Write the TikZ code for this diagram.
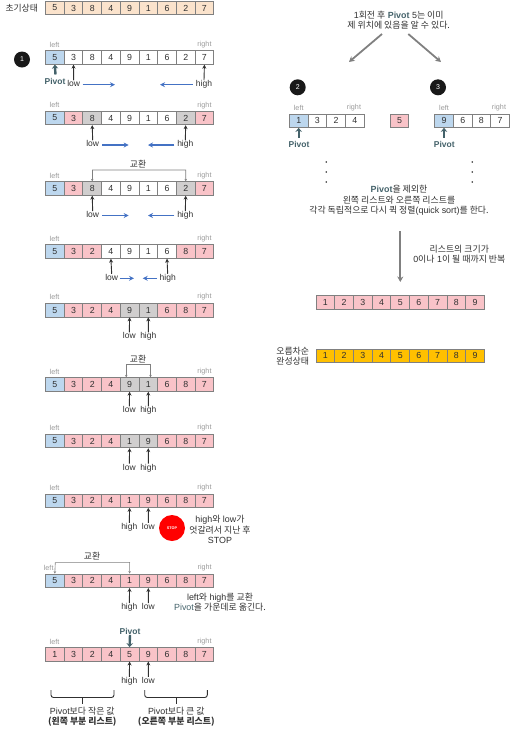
\documentclass[tikz,border=0pt]{standalone}
\usepackage{fontspec}
\setmainfont{Liberation Sans}
\newfontfamily\kr{Noto Sans CJK KR}
\usetikzlibrary{arrows.meta}
\definecolor{cP}{HTML}{F9C3C8}
\definecolor{cB}{HTML}{BDD7EE}
\definecolor{cG}{HTML}{D0CECE}
\definecolor{cW}{HTML}{FFFFFF}
\definecolor{cO}{HTML}{FBE3CC}
\definecolor{cY}{HTML}{FFC000}
\definecolor{edge}{HTML}{808080}
\definecolor{pvt}{HTML}{44626A}
\definecolor{ink}{HTML}{303030}
\definecolor{flow}{HTML}{4472C4}
\tikzset{
  cellbox/.style={draw=edge,line width=0.8pt,minimum width=18.7pt,minimum height=13.5pt,inner sep=0pt,text=ink,font=\fontsize{8.8}{9}\selectfont},
  lrtext/.style={text=black!40,inner sep=0pt,font=\fontsize{7.2}{8}\selectfont},
  ptrtext/.style={inner sep=0pt,text height=6.3pt,text depth=1.8pt,text=ink,font=\fontsize{8.5}{9}\selectfont},
  plain/.style={inner sep=0pt,align=center,text=ink,font=\fontsize{8.9}{10.3}\selectfont},
  krlabel/.style={plain,font=\kr\fontsize{8.8}{10}\selectfont},
  ptrline/.style={draw=ink,line width=0.9pt,-{Stealth[length=4pt,width=4pt]}},
  flowline/.style={draw=flow,line width=1.4pt,-{Stealth[length=5pt,width=5pt]}},
  swapline/.style={draw=edge,line width=0.6pt,-{Stealth[length=2.5pt,width=2.5pt]}},
  bigline/.style={draw=edge,line width=1.8pt,-{Stealth[length=5.5pt,width=6pt]}},
  pvtline/.style={draw=pvt,line width=2.4pt,-{Stealth[length=4pt,width=6.5pt]}},
  pvttext/.style={inner sep=0pt,text=pvt,font=\bfseries\fontsize{8.5}{9}\selectfont},
  badge/.style={circle,fill=black!90,text=white,minimum size=16pt,inner sep=0pt,font=\fontsize{7}{8}\selectfont},
  bracefig/.style={draw=ink,line width=0.9pt,rounded corners=2.5pt},
  tipfig/.style={draw=ink,line width=0.9pt},
}
\newcommand\cellrow[4]{% name, x of first cell centre, y centre, val/col list
  \foreach \v/\c [count=\i from 0] in {#4}
    \node[cellbox,fill=\c] (#1c\the\numexpr\i+1\relax) at ({#2+\i*18.7},#3) {\v};
}
\newcommand\lr[4]{% name, xleft, xright, y
  \node[lrtext] (#1L) at (#2,#4) {left};
  \node[lrtext] (#1R) at (#3,#4) {right};
}
\newcommand\ptr[5]{% name,x,y,text,target
  \node[ptrtext] (#1) at (#2,#3) {#4};
  \draw[ptrline] (#1.north) -- (#5.south);
}
\begin{document}
\begin{tikzpicture}[x=1pt,y=-1pt]
\useasboundingbox (0,0) rectangle (512,732);
% initial
\node[krlabel] (t0) at (21.7,8) {초기상태};
\cellrow{a}{54.8}{8}{5/cO,3/cO,8/cO,4/cO,9/cO,1/cO,6/cO,2/cO,7/cO}
% row 1
\node[badge] (b1) at (22,59.5) {1};
\lr{r1}{54.5}{204.5}{45}
\cellrow{r1}{54.8}{57.5}{5/cB,3/cW,8/cW,4/cW,9/cW,1/cW,6/cW,2/cW,7/cW}
\node[pvttext] (p1) at (55,81) {Pivot};
\coordinate (p1a) at (55.5,74.5);
\draw[pvtline] (p1a) -- (r1c1.south);
\ptr{l1}{73.7}{84.5}{low}{r1c2}
\ptr{h1}{204}{84.5}{high}{r1c9}
\coordinate (f1a) at (82.7,84.7); \coordinate (f1b) at (115,84.7);
\coordinate (f1c) at (192.7,84.7); \coordinate (f1d) at (160,84.7);
\draw[flowline] (f1a) -- (f1b); \draw[flowline] (f1c) -- (f1d);
% row 2
\lr{r2}{54.5}{204.5}{105.3}
\cellrow{r2}{54.8}{118}{5/cB,3/cP,8/cG,4/cW,9/cW,1/cW,6/cW,2/cG,7/cP}
\ptr{l2}{92.7}{144.5}{low}{r2c3}
\ptr{h2}{185.3}{144.5}{high}{r2c8}
\coordinate (f2a) at (102,145); \coordinate (f2b) at (128.7,145);
\coordinate (f2c) at (174.3,145); \coordinate (f2d) at (148,145);
\draw[flowline] (f2a) -- (f2b); \draw[flowline] (f2c) -- (f2d);
% row 3
\node[krlabel] (x3) at (138,164.3) {교환};
\lr{r3}{54.5}{204.5}{176}
\cellrow{r3}{54.8}{188.5}{5/cB,3/cP,8/cG,4/cW,9/cW,1/cW,6/cW,2/cG,7/cP}
\coordinate (s3) at (92.2,170); \coordinate (s3b) at (185.7,170);
\draw[swapline] (s3) -- (r3c3.north);
\draw[swapline] (s3) -- (s3b) -- (r3c8.north);
\ptr{l3}{92.7}{215.3}{low}{r3c3}
\ptr{h3}{185.3}{215.3}{high}{r3c8}
\coordinate (f3a) at (102,215.5); \coordinate (f3b) at (128.7,215.5);
\coordinate (f3c) at (174.3,215.5); \coordinate (f3d) at (148,215.5);
\draw[flowline] (f3a) -- (f3b); \draw[flowline] (f3c) -- (f3d);
% row 4
\lr{r4}{54.5}{204.5}{238.5}
\cellrow{r4}{54.8}{251.5}{5/cB,3/cP,2/cP,4/cW,9/cW,1/cW,6/cW,8/cP,7/cP}
\ptr{l4}{111.7}{278}{low}{r4c4}
\ptr{h4}{167.7}{278}{high}{r4c7}
\coordinate (f4a) at (119.7,278.3); \coordinate (f4b) at (134,278.3);
\coordinate (f4c) at (157,278.3); \coordinate (f4d) at (142.7,278.3);
\draw[flowline] (f4a) -- (f4b); \draw[flowline] (f4c) -- (f4d);
% row 5
\lr{r5}{54.5}{204.5}{297}
\cellrow{r5}{54.8}{310.2}{5/cB,3/cP,2/cP,4/cP,9/cG,1/cG,6/cP,8/cP,7/cP}
\ptr{l5}{129.3}{336.5}{low}{r5c5}
\ptr{h5}{148.3}{336.5}{high}{r5c6}
% row 6
\node[krlabel] (x6) at (138,358.8) {교환};
\lr{r6}{54.5}{204.5}{371.5}
\cellrow{r6}{54.8}{384.5}{5/cB,3/cP,2/cP,4/cP,9/cG,1/cG,6/cP,8/cP,7/cP}
\coordinate (s6a) at (126.3,364.3); \coordinate (s6b) at (150.5,364.3);
\draw[swapline] (s6a) -- (s6a |- r6c5.north);
\draw[swapline] (s6a) -- (s6b) -- (s6b |- r6c6.north);
\ptr{l6}{129.3}{410.5}{low}{r6c5}
\ptr{h6}{148.3}{410.5}{high}{r6c6}
% row 7
\lr{r7}{54.5}{204.5}{428}
\cellrow{r7}{54.8}{441}{5/cB,3/cP,2/cP,4/cP,1/cG,9/cG,6/cP,8/cP,7/cP}
\ptr{l7}{129.3}{467.8}{low}{r7c5}
\ptr{h7}{148.3}{467.8}{high}{r7c6}
% row 8
\lr{r8}{54.5}{204.5}{488}
\cellrow{r8}{54.8}{500.7}{5/cB,3/cP,2/cP,4/cP,1/cP,9/cP,6/cP,8/cP,7/cP}
\ptr{h8}{129.3}{527}{high}{r8c5}
\ptr{l8}{148.3}{527}{low}{r8c6}
\node[circle,fill=red,minimum size=26pt,inner sep=0pt,text=white,font=\bfseries\fontsize{3.8}{4}\selectfont] (stop) at (172,528) {STOP};
\node[plain] (t8) at (220,529.5) {high{\kr 와} low{\kr 가}\\{\kr 엇갈려서 지난 후}\\STOP};
% row 9
\node[krlabel] (x9) at (92,556.3) {교환};
\node[lrtext] (r9L) at (48.7,568) {left};
\node[lrtext] (r9R) at (204.7,568) {right};
\cellrow{r9}{54.8}{580.8}{5/cB,3/cP,2/cP,4/cP,1/cP,9/cP,6/cP,8/cP,7/cP}
\coordinate (s9) at (55.3,562.3); \coordinate (s9b) at (129.7,562.3);
\draw[swapline] (s9) -- (r9c1.north);
\draw[swapline] (s9) -- (s9b) -- (r9c5.north);
\ptr{h9}{129.3}{607.3}{high}{r9c5}
\ptr{l9}{148.3}{607.3}{low}{r9c6}
\node[plain] (t9) at (220,602) {left{\kr 와} high{\kr 를 교환}\\{\color{pvt}Pivot}{\kr 을 가운데로 옮긴다.}};
% row 10
\node[pvttext] (p10) at (130,631.5) {Pivot};
\lr{r10}{54.5}{204.5}{641.5}
\cellrow{r10}{54.8}{654.3}{1/cP,3/cP,2/cP,4/cP,5/cP,9/cP,6/cP,8/cP,7/cP}
\draw[pvtline] (p10.south) -- (r10c5.north);
\ptr{h10}{129.3}{681}{high}{r10c5}
\ptr{l10}{148.3}{681}{low}{r10c6}
\coordinate (ba) at (51,690); \coordinate (bb) at (114,690);
\coordinate (bc) at (144.7,690); \coordinate (bd) at (207.3,690);
\coordinate (bt) at (82.5,697.5); \coordinate (bu) at (176,697.5);
\coordinate (bv) at (82.5,704); \coordinate (bw) at (176,704);
\draw[bracefig] (ba) -- (ba |- bt) -- (bb |- bt) -- (bb);
\draw[bracefig] (bc) -- (bc |- bu) -- (bd |- bu) -- (bd);
\draw[tipfig] (bt) -- (bv);
\draw[tipfig] (bu) -- (bw);
\node[plain] (tl) at (82.3,716.7) {Pivot{\kr 보다 작은 값}\\{\kr\bfseries (왼쪽 부분 리스트)}};
\node[plain] (tr) at (176.3,716.7) {Pivot{\kr 보다 큰 값}\\{\kr\bfseries (오른쪽 부분 리스트)}};
% right column
\node[plain] (top) at (398.7,19.8) {1{\kr 회전 후} {\color{pvt}\bfseries Pivot} 5{\kr 는 이미}\\{\kr 제 위치에 있음을 알 수 있다.}};
\coordinate (ga) at (382,34); \coordinate (gb) at (349,62);
\coordinate (gc) at (408.3,34); \coordinate (gd) at (441,62);
\draw[bigline] (ga) -- (gb); \draw[bigline] (gc) -- (gd);
\node[badge] (b2) at (297.7,87.3) {2};
\node[badge] (b3) at (438,87.3) {3};
\lr{s1}{298.7}{354}{108}
\lr{s2}{444}{499}{108}
\cellrow{s1}{298.7}{120.7}{1/cB,3/cW,2/cW,4/cW}
\node[cellbox,fill=cP] (mid) at (399.5,120.7) {5};
\cellrow{s2}{444}{120.7}{9/cB,6/cW,8/cW,7/cW}
\node[pvttext] (p2) at (299,144) {Pivot};
\node[pvttext] (p3) at (444.3,144) {Pivot};
\coordinate (p2a) at (298.7,137.5); \coordinate (p3a) at (444,137.5);
\draw[pvtline] (p2a) -- (s1c1.south);
\draw[pvtline] (p3a) -- (s2c1.south);
\foreach \n/\yy in {1/162,2/172,3/182}{
  \fill[ink] (326.3,\yy) circle (0.9pt);
  \fill[ink] (472.3,\yy) circle (0.9pt);
}
\node[plain] (t2) at (399,200.5) {{\color{pvt}\bfseries Pivot}{\kr 을 제외한}\\{\kr 왼쪽 리스트와 오른쪽 리스트를}\\{\kr 각각 독립적으로 다시 퀵 정렬}(quick sort){\kr 를 한다.}};
\coordinate (va) at (400.3,231); \coordinate (vb) at (400.3,282);
\draw[bigline] (va) -- (vb);
\node[plain] (t3) at (459.3,254.5) {{\kr 리스트의 크기가}\\0{\kr 이나} 1{\kr 이 될 때까지 반복}};
\cellrow{d}{325.4}{302.5}{1/cP,2/cP,3/cP,4/cP,5/cP,6/cP,7/cP,8/cP,9/cP}
\node[plain] (t4) at (292.7,356) {{\kr 오름차순}\\{\kr 완성상태}};
\cellrow{e}{325.4}{355.8}{1/cY,2/cY,3/cY,4/cY,5/cY,6/cY,7/cY,8/cY,9/cY}
\end{tikzpicture}
\end{document}
